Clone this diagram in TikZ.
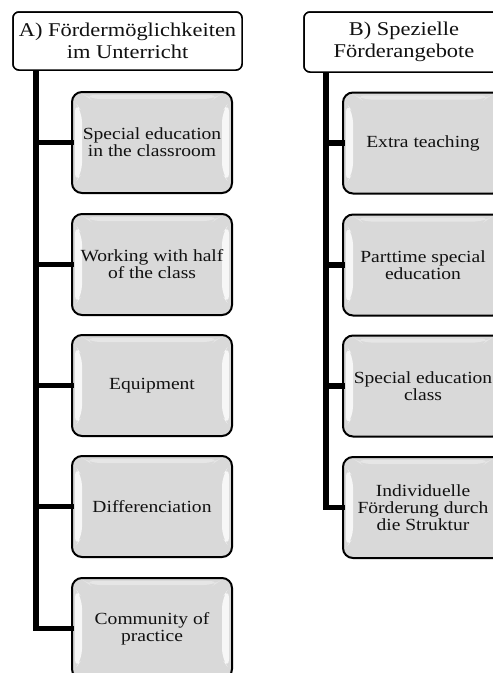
\documentclass[tikz,border=0pt]{standalone}
\usepackage{fontspec}
\setmainfont{Liberation Serif}[FakeStretch=1.15]
\usetikzlibrary{calc}
\definecolor{boxfill}{HTML}{D9D9D9}
\definecolor{inktext}{HTML}{111111}
\tikzset{
  header/.style={draw=black, line width=1.5pt, rounded corners=6pt, fill=white,
    minimum width=229pt, minimum height=58pt, align=center, text=inktext,
    inner sep=2pt, font=\fontsize{19.5}{22}\selectfont},
  item/.style={draw=black, line width=2pt, rounded corners=10pt, fill=boxfill,
    minimum width=160pt, minimum height=101pt, align=center, text=inktext,
    inner sep=1pt, font=\fontsize{17}{17}\selectfont,
    path picture={
      \coordinate (pa) at (path picture bounding box.north west);
      \coordinate (pb) at (path picture bounding box.south east);
      \coordinate (pc) at (pa -| pb);
      \coordinate (pd) at (pa |- pb);
      \fill[white, opacity=.8] ($(pa)+(3,10)$) -- ($(pa)+(10,20)$)
        -- ($(pd)+(10,-20)$) -- ($(pd)+(3,-10)$) -- cycle;
      \fill[white, opacity=.8] ($(pc)+(-3,10)$) -- ($(pc)+(-10,20)$)
        -- ($(pb)+(-10,-20)$) -- ($(pb)+(-3,-10)$) -- cycle;
      \fill[white, opacity=.35] ($(pa)+(12,3)$) -- ($(pc)+(-12,3)$)
        -- ($(pc)+(-18,7)$) -- ($(pa)+(18,7)$) -- cycle;
    }},
  trunk/.style={line width=5.5pt, line cap=rect},
}
\begin{document}
\begin{tikzpicture}[x=1pt, y=-1pt]
  \useasboundingbox (0,0) rectangle (493,673);
  \clip (0,0) rectangle (493,673);

  % column A: support within the lesson
  \node[header] (hA) at (127.5,41) {A) Fördermöglichkeiten\\im Unterricht};
  \node[item] (a1) at (152,142.5) {Special education\\in the classroom};
  \node[item] (a2) at (152,264.5) {Working with half\\of the class};
  \node[item] (a3) at (152,385.5) {Equipment};
  \node[item] (a4) at (152,506.5) {Differenciation};
  \node[item] (a5) at (152,628.5) {Community of\\practice};

  % column B: special support offers
  \node[header, minimum width=200pt, minimum height=60pt] (hB) at (404,42) {B) Spezielle\\Förderangebote};
  \node[item] (b1) at (423,143) {Extra teaching};
  \node[item] (b2) at (423,265) {Parttime special\\education};
  \node[item] (b3) at (423,386) {Special education\\class};
  \node[item] (b4) at (423,507.5) {Individuelle\\Förderung durch\\die Struktur};

  % trunks
  \coordinate (tA) at (hA.south -| 36,0);
  \coordinate (tB) at (hB.south -| 326,0);
  \draw[trunk] (tA) |- (a5.west);
  \foreach \n in {a1,a2,a3,a4} \draw[trunk] (tA |- \n.west) -- (\n.west);
  \draw[trunk] (tB) |- (b4.west);
  \foreach \n in {b1,b2,b3} \draw[trunk] (tB |- \n.west) -- (\n.west);

  % redraw headers over the trunk tops
  \node[header] at (hA) {A) Fördermöglichkeiten\\im Unterricht};
  \node[header, minimum width=200pt, minimum height=60pt] at (hB) {B) Spezielle\\Förderangebote};
\end{tikzpicture}
\end{document}
